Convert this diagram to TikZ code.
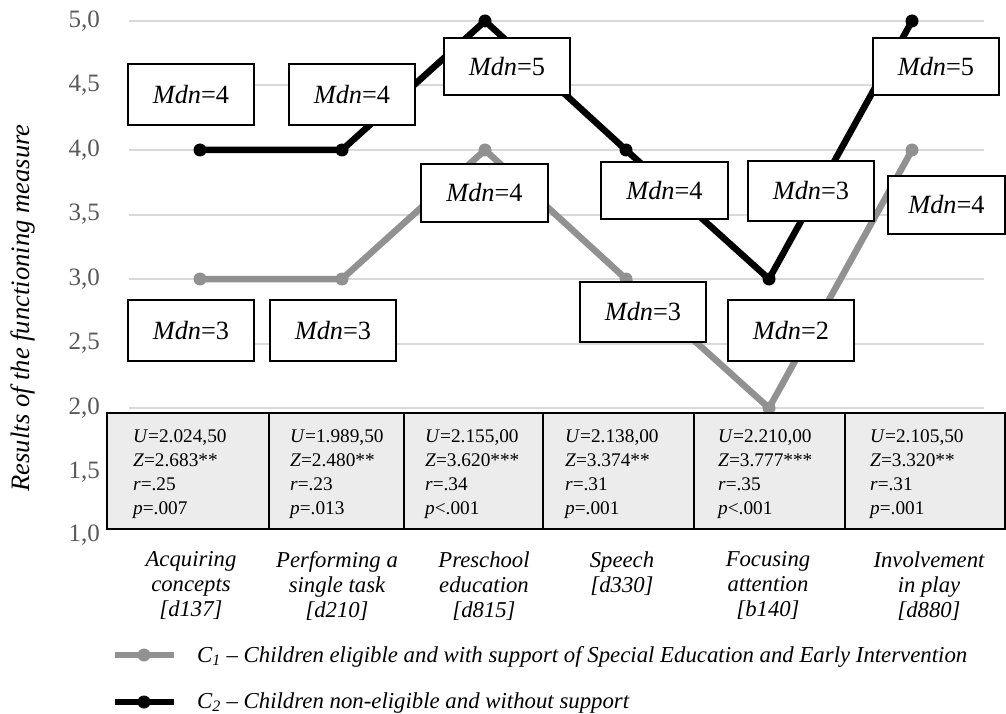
\documentclass[tikz,border=0pt]{standalone}
\usepackage{fontspec}
\setmainfont{Liberation Serif}
\definecolor{gridc}{RGB}{217,217,217}
\definecolor{cone}{RGB}{145,145,145}
\definecolor{ticklab}{RGB}{89,89,89}
\definecolor{tabfill}{RGB}{236,236,236}
\begin{document}
\begin{tikzpicture}[x=1pt,y=-1pt,
  gridline/.style={draw=gridc, line width=2pt},
  serone/.style={draw=cone, line width=6.5pt, line join=round},
  sertwo/.style={draw=black, line width=6.5pt, line join=round},
  dotone/.style={circle, fill=cone, inner sep=0pt, minimum size=13pt},
  dottwo/.style={circle, fill=black, inner sep=0pt, minimum size=13pt},
  mdnbox/.style={draw=black, line width=1.6pt, fill=white, inner sep=0pt, font=\fontsize{26.3}{30}\selectfont},
  cellbox/.style={draw=black, line width=1.6pt, fill=tabfill},
  celltext/.style={anchor=north west, align=left, inner sep=0pt, font=\fontsize{19.3}{24.3}\selectfont},
  catlab/.style={anchor=north, align=center, inner sep=0pt, font=\fontsize{22.7}{25}\selectfont\itshape},
  ticklabel/.style={anchor=east, inner sep=0pt, text=ticklab, font=\fontsize{25}{28}\selectfont},
  legtext/.style={anchor=base west, inner sep=0pt, font=\fontsize{22.8}{26}\selectfont\itshape}
]
\useasboundingbox (0,0) rectangle (1006,714);

% gridlines
\foreach \y in {21,85.5,150,214.5,279,343.5,408}{
  \draw[gridline] (129,\y) -- (984,\y);
}
% tick labels
\foreach \t/\y [count=\i] in {{5,0}/21,{4,5}/85.5,{4,0}/150,{3,5}/214.5,{3,0}/279,{2,5}/343.5,{2,0}/408,{1,5}/472.5,{1,0}/535}{
  \node[ticklabel] (yl\i) at (100,\y) {\t};
}
% axis title
\node[rotate=90, inner sep=0pt, font=\fontsize{26.6}{30}\selectfont\itshape] (ytitle) at (23,308) {Results of the functioning measure};

% data points
\coordinate (g1) at (200,279);
\coordinate (g2) at (342,279);
\coordinate (g3) at (485,150);
\coordinate (g4) at (626,279);
\coordinate (g5) at (769,408);
\coordinate (g6) at (912,150);
\coordinate (b1) at (200,150);
\coordinate (b2) at (342,150);
\coordinate (b3) at (485,21);
\coordinate (b4) at (626,150);
\coordinate (b5) at (769,279);
\coordinate (b6) at (912,21);

\draw[serone] (g1) -- (g2) -- (g3) -- (g4) -- (g5) -- (g6);
\foreach \i in {1,...,6}{ \node[dotone] (gd\i) at (g\i) {}; }
\draw[sertwo] (b1) -- (b2) -- (b3) -- (b4) -- (b5) -- (b6);
\foreach \i in {1,...,6}{ \node[dottwo] (bd\i) at (b\i) {}; }

% table
\draw[cellbox] (107,413) rectangle (269,529);
\draw[cellbox] (269,413) rectangle (404,529);
\draw[cellbox] (404,413) rectangle (543,529);
\draw[cellbox] (543,413) rectangle (694,529);
\draw[cellbox] (694,413) rectangle (845,529);
\draw[cellbox] (845,413) rectangle (1005,529);

\node[celltext] (c1) at (133,429) {\textit{U}=2.024,50\\\textit{Z}=2.683**\\\textit{r}=.25\\\textit{p}=.007};
\node[celltext] (c2) at (290,429) {\textit{U}=1.989,50\\\textit{Z}=2.480**\\\textit{r}=.23\\\textit{p}=.013};
\node[celltext] (c3) at (425,429) {\textit{U}=2.155,00\\\textit{Z}=3.620***\\\textit{r}=.34\\\textit{p}<.001};
\node[celltext] (c4) at (565,429) {\textit{U}=2.138,00\\\textit{Z}=3.374**\\\textit{r}=.31\\\textit{p}=.001};
\node[celltext] (c5) at (718,429) {\textit{U}=2.210,00\\\textit{Z}=3.777***\\\textit{r}=.35\\\textit{p}<.001};
\node[celltext] (c6) at (870,429) {\textit{U}=2.105,50\\\textit{Z}=3.320**\\\textit{r}=.31\\\textit{p}=.001};

% category labels
\node[catlab] (k1) at (191,551.5) {Acquiring\\concepts\\{[}d137{]}};
\node[catlab] (k2) at (337,551.5) {Performing a\\single task\\{[}d210{]}};
\node[catlab] (k3) at (484,551.5) {Preschool\\education\\{[}d815{]}};
\node[catlab] (k4) at (622,551.5) {Speech\\{[}d330{]}};
\node[catlab] (k5) at (768,551.5) {Focusing\\attention\\{[}b140{]}};
\node[catlab] (k6) at (929,551.5) {Involvement\\in play\\{[}d880{]}};

% Mdn boxes
\node[mdnbox, minimum width=126pt, minimum height=61pt] (m1) at (191,94.5) {\textit{Mdn}=4};
\node[mdnbox, minimum width=126pt, minimum height=61pt] (m2) at (352,94.5) {\textit{Mdn}=4};
\node[mdnbox, minimum width=126pt, minimum height=57pt] (m3) at (507,66.5) {\textit{Mdn}=5};
\node[mdnbox, minimum width=127pt, minimum height=58pt] (m4) at (484.5,193) {\textit{Mdn}=4};
\node[mdnbox, minimum width=127pt, minimum height=57pt] (m5) at (664.5,190.5) {\textit{Mdn}=4};
\node[mdnbox, minimum width=126pt, minimum height=60pt] (m6) at (811,191) {\textit{Mdn}=3};
\node[mdnbox, minimum width=126pt, minimum height=57pt] (m7) at (936,66.5) {\textit{Mdn}=5};
\node[mdnbox, minimum width=117pt, minimum height=58pt] (m8) at (946.5,205) {\textit{Mdn}=4};
\node[mdnbox, minimum width=126pt, minimum height=61pt] (m9) at (191,330.5) {\textit{Mdn}=3};
\node[mdnbox, minimum width=126pt, minimum height=61pt] (m10) at (333,330.5) {\textit{Mdn}=3};
\node[mdnbox, minimum width=126pt, minimum height=60pt] (m11) at (643,312) {\textit{Mdn}=3};
\node[mdnbox, minimum width=126pt, minimum height=61pt] (m12) at (791,330.5) {\textit{Mdn}=2};

% legend
\coordinate (la1) at (115,655);
\coordinate (lb1) at (174,655);
\draw[serone] (la1) -- (lb1);
\node[dotone] (ld1) at (144,655) {};
\coordinate (la2) at (115,702);
\coordinate (lb2) at (174,702);
\draw[sertwo] (la2) -- (lb2);
\node[dottwo] (ld2) at (144,702) {};
\node[legtext] (lt1) at (197,662) {C\textsubscript{1} – Children eligible and with support of Special Education and Early Intervention};
\node[legtext] (lt2) at (197,708) {C\textsubscript{2} – Children non-eligible and without support};
\end{tikzpicture}
\end{document}
